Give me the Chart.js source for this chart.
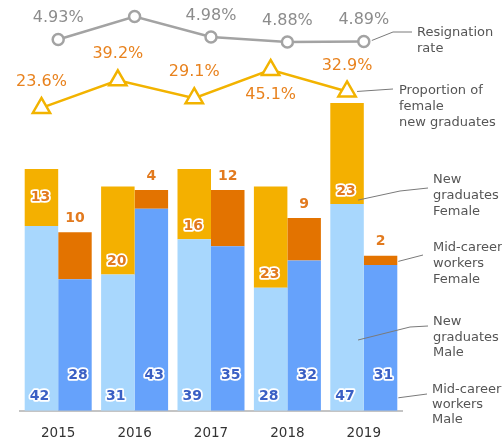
<!DOCTYPE html>
<html>
<head>
<meta charset="utf-8">
<script src="https://cdn.jsdelivr.net/npm/chart.js@4.4.1/dist/chart.umd.min.js"></script>
<style>
  html, body { margin: 0; padding: 0; background: #fff; }
</style>
</head>
<body>
<canvas id="chart" width="502" height="442"></canvas>
<script>
const years = ['2015', '2016', '2017', '2018', '2019'];
const newGradMale = [42, 31, 39, 28, 47];
const newGradFemale = [13, 20, 16, 23, 23];
const midMale = [28, 43, 35, 32, 31];
const midFemale = [10, 4, 12, 9, 2];
const resignRate = [4.93, 5.39, 4.98, 4.88, 4.89];
const femaleRatio = [23.6, 39.2, 29.1, 45.1, 32.9];

const FONT = '"DejaVu Sans", Verdana, sans-serif';
const pairPct = 0.877;          // share of a year slot taken by the two bars
const shift = pairPct / 4;      // offset of each bar centre from the year centre
const pts = (arr) => arr.map((v, i) => ({ x: i, y: v }));

// draws the numbers on bars and points
const valueLabels = {
  id: 'valueLabels',
  afterDatasetsDraw(chart) {
    const ctx = chart.ctx;
    ctx.save();
    ctx.textAlign = 'center';
    ctx.textBaseline = 'middle';
    ctx.lineJoin = 'round';
    chart.data.datasets.forEach((ds, di) => {
      const meta = chart.getDatasetMeta(di);
      meta.data.forEach((el, i) => {
        let v, x = el.x, y, color, outline = false;
        if (ds.tag === 'resign') {
          v = resignRate[i].toFixed(2) + '%';
          y = el.y - 21.5;
          color = '#8c8c8c';
          ctx.font = '16px ' + FONT;
        } else if (ds.tag === 'ratio') {
          const val = femaleRatio[i];
          v = val.toFixed(1) + '%';
          y = val === Math.max(...femaleRatio) ? el.y + 25 : el.y - 26;
          color = '#e8821e';
          ctx.font = '16px ' + FONT;
        } else {
          ctx.font = 'bold 14px ' + FONT;
          v = String(ds.data[i].y);
          const h = el.base - el.y;
          if (ds.tag === 'ngm') {
            y = el.base - 14; x = el.x - 2; color = '#3a5fc4'; outline = true;
          } else if (ds.tag === 'mm') {
            y = el.base - 35; x = el.x + 3; color = '#3a5fc4'; outline = true;
          } else if (ds.tag === 'ngf') {
            y = h < 70 ? el.y + h / 2 : el.base - 13; x = el.x - 1; color = '#e27a1e'; outline = true;
          } else {
            y = el.y - 14; color = '#e27a1e';
          }
        }
        if (outline) {
          ctx.lineWidth = 3.5;
          ctx.strokeStyle = '#fff';
          ctx.strokeText(v, x, y);
        }
        ctx.fillStyle = color;
        ctx.fillText(v, x, y);
      });
    });
    ctx.restore();
  }
};

// side captions with leader lines
const sideNotes = {
  id: 'sideNotes',
  afterDraw(chart) {
    const ctx = chart.ctx;
    const last = years.length - 1;
    const pt = (tag) => chart.getDatasetMeta(chart.data.datasets.findIndex(d => d.tag === tag)).data[last];
    const rp = pt('resign'), tp = pt('ratio');
    const ngf = pt('ngf'), mf = pt('mf'), ngm = pt('ngm'), mm = pt('mm');

    ctx.save();
    ctx.strokeStyle = '#7a7a7a';
    ctx.lineWidth = 1;
    const leader = (p) => {
      ctx.beginPath();
      ctx.moveTo(p[0][0], p[0][1]);
      p.slice(1).forEach(q => ctx.lineTo(q[0], q[1]));
      ctx.stroke();
    };
    leader([[rp.x + 8, rp.y - 1], [393, 32], [412, 32]]);
    leader([[tp.x + 10, tp.y], [393, 89]]);
    leader([[ngf.x + 11, ngf.base - 4], [400, 191], [428, 188]]);
    leader([[mf.x + mf.width / 2 + 1, (mf.y + mf.base) / 2 + 1], [423, 255]]);
    leader([[ngm.x + 11, 340], [410, 327], [428, 326]]);
    leader([[mm.x + mm.width / 2 + 1, mm.base - 13], [427, 394]]);

    ctx.fillStyle = '#555';
    ctx.font = '13px ' + FONT;
    ctx.textAlign = 'left';
    ctx.textBaseline = 'middle';
    const note = (lines, x, y, lh) => lines.forEach((t, k) => ctx.fillText(t, x, y + k * lh));
    note(['Resignation', 'rate'], 417, 33, 15.5);
    note(['Proportion of', 'female', 'new graduates'], 399, 91, 16);
    note(['New', 'graduates', 'Female'], 433, 180, 16);
    note(['Mid-career', 'workers', 'Female'], 433, 248, 16);
    note(['New', 'graduates', 'Male'], 433, 322, 15.5);
    note(['Mid-career', 'workers', 'Male'], 432, 390, 15);
    ctx.restore();
  }
};

const barCommon = { grouped: false, categoryPercentage: 1, barPercentage: pairPct / 2 };

const ctx = document.getElementById('chart').getContext('2d');
new Chart(ctx, {
  type: 'bar',
  data: {
    labels: years,
    datasets: [
      {
        type: 'line', tag: 'resign',
        data: resignRate,
        xAxisID: 'x', yAxisID: 'yR',
        borderColor: '#a3a3a3', borderWidth: 2.5,
        pointRadius: 5.5, pointBorderWidth: 2.5,
        pointBackgroundColor: '#fff', pointBorderColor: '#a3a3a3',
      },
      {
        type: 'line', tag: 'ratio',
        data: pts(femaleRatio),
        xAxisID: 'xL', yAxisID: 'yP',
        borderColor: '#f2b300', borderWidth: 2.5,
        pointStyle: 'triangle', pointRadius: 10, pointBorderWidth: 2.5,
        pointBackgroundColor: '#fff', pointBorderColor: '#f2b300',
      },
      { ...barCommon, tag: 'ngm', data: pts(newGradMale), stack: 'new', xAxisID: 'xL', yAxisID: 'yN', backgroundColor: '#a8d7fd' },
      { ...barCommon, tag: 'ngf', data: pts(newGradFemale), stack: 'new', xAxisID: 'xL', yAxisID: 'yN', backgroundColor: '#f4b000' },
      { ...barCommon, tag: 'mm', data: pts(midMale), stack: 'mid', xAxisID: 'xR', yAxisID: 'yM', backgroundColor: '#66a2fb' },
      { ...barCommon, tag: 'mf', data: pts(midFemale), stack: 'mid', xAxisID: 'xR', yAxisID: 'yM', backgroundColor: '#e37300' },
    ]
  },
  options: {
    responsive: false,
    animation: false,
    layout: { autoPadding: false, padding: { left: 20, right: 100, top: 0, bottom: -15 } },
    plugins: { legend: { display: false }, tooltip: { enabled: false } },
    scales: {
      x: {
        type: 'category',
        offset: true,
        grid: { display: false, drawTicks: false },
        border: { display: true, color: '#c4c4c4', width: 2 },
        ticks: { color: '#333', font: { family: FONT, size: 13.5 }, padding: 15 },
      },
      // hidden axes that put the left / right bar of each year in place
      xL: { type: 'linear', display: false, offset: false, min: -0.5 + shift, max: years.length - 0.5 + shift },
      xR: { type: 'linear', display: false, offset: false, min: -0.5 - shift, max: years.length - 0.5 - shift },
      yN: { display: false, stacked: true, min: 0, max: 93.4 },
      yM: { display: false, stacked: true, min: 0, max: 87.4 },
      yR: { display: false, min: -2.50, max: 5.72 },
      yP: { display: false, min: -147.6, max: 84.6 },
    }
  },
  plugins: [valueLabels, sideNotes]
});
</script>
</body>
</html>
